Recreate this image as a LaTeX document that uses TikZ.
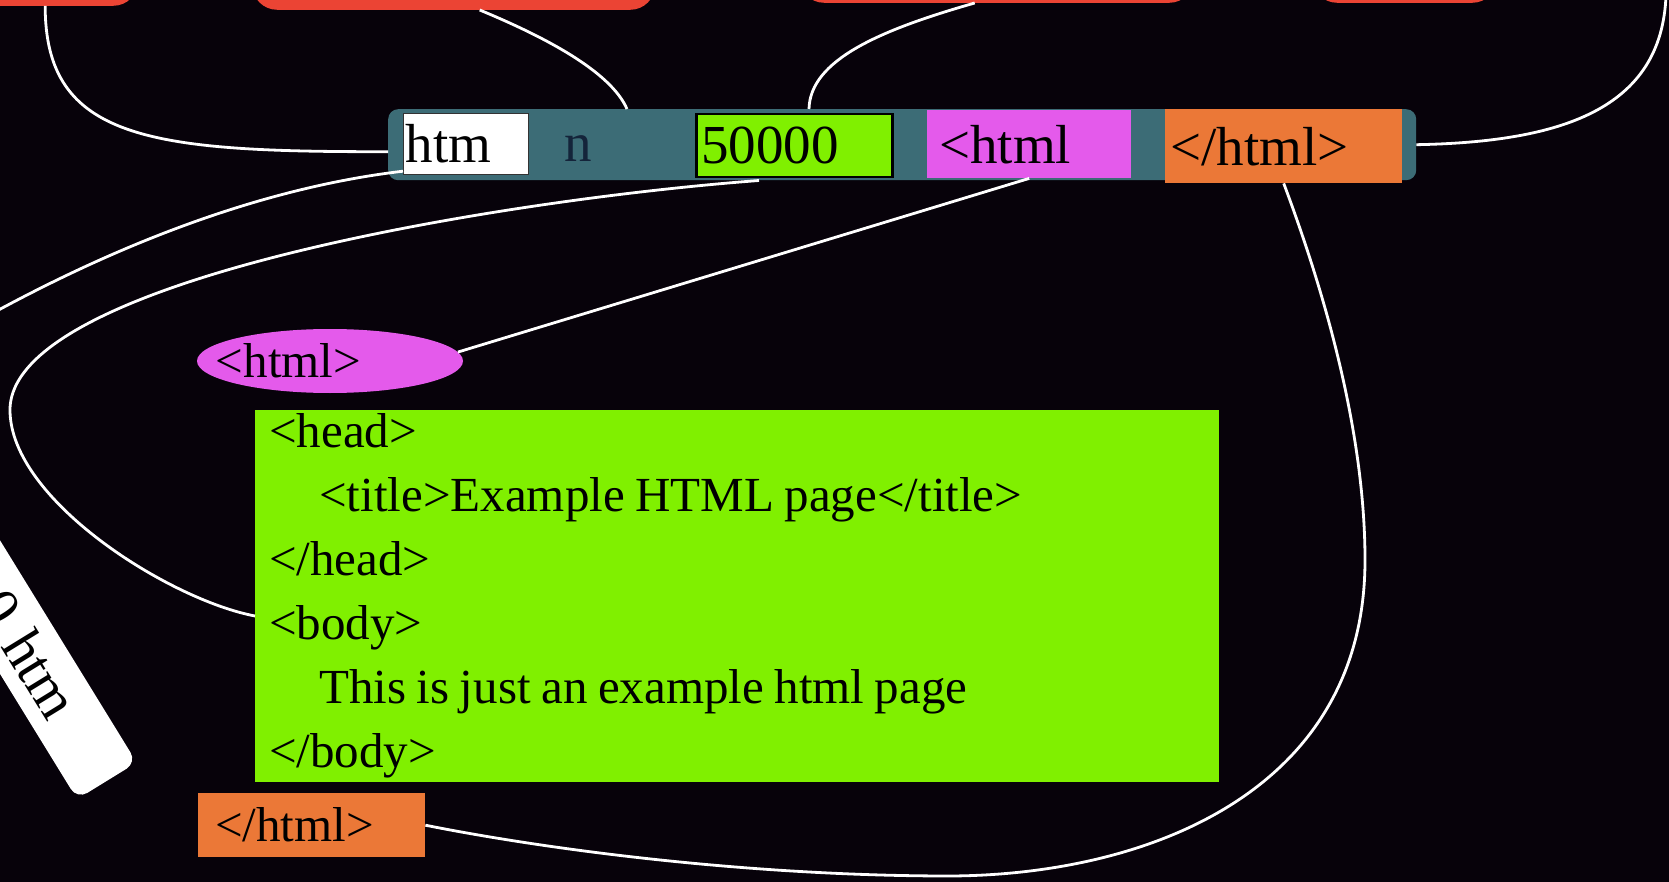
\documentclass[tikz,border=0pt]{standalone}
\usepackage{fontspec}
\setmainfont{Liberation Serif}
\usetikzlibrary{shapes.geometric,calc}
\definecolor{bgdark}{HTML}{07020A}
\definecolor{barteal}{HTML}{3C6C76}
\definecolor{tagred}{HTML}{EB4434}
\definecolor{taggreen}{HTML}{80F000}
\definecolor{tagmag}{HTML}{E45AEB}
\definecolor{tagorange}{HTML}{EB7837}
\definecolor{nblue}{HTML}{14243A}
\begin{document}
\begin{tikzpicture}[x=1pt,y=-1pt,
  conn/.style={draw=white, line width=2.8pt},
  cell/.style={rectangle, anchor=north west, inner ysep=0pt, align=left,
    font=\fontsize{55}{66}\selectfont, text=black},
  redbox/.style={fill=tagred, rounded corners=25pt, anchor=south west,
    inner sep=0pt, minimum height=90pt},
  ]
\path[use as bounding box, fill=bgdark] (0,0) rectangle (1669,882);
\clip (0,0) rectangle (1669,882);

% red shapes at the top (cut off)
\node[redbox, minimum width=188] (red1) at (-50,6) {};
\node[redbox, minimum width=403] (red2) at (252,10) {};
\node[redbox, minimum width=395] (red3) at (799,3) {};
\node[redbox, minimum width=185] (red4) at (1312,3) {};
\coordinate (r5) at (1666,-5);

% record bar
\node[fill=barteal, rounded corners=10pt, minimum width=1028, minimum height=71,
  inner sep=0pt, anchor=north west] (bar) at (388,109) {};
\node[cell, fill=white, draw=black!80, line width=1.2pt, text width=121,
  inner xsep=2pt, minimum height=61] (htm) at (403,113) {htm};
\node[font=\fontsize{55}{66}\selectfont, text=nblue, inner sep=0pt] (n) at (578,149) {n};
\node[cell, fill=taggreen, draw=black, line width=2.5pt, text width=186,
  inner xsep=5pt, minimum height=63] (grn) at (695,113) {50000};
\node[cell, fill=tagmag, text width=180, inner xsep=12pt, minimum height=68]
  (mag) at (927,110) {<html};
\node[cell, fill=tagorange, text width=227, inner xsep=5pt, minimum height=74]
  (or1) at (1165,109) {</html>};

% ellipse
\node[ellipse, fill=tagmag, minimum width=266, minimum height=64, inner sep=0pt,
  font=\fontsize{49}{60}\selectfont] (ell) at (330,361)
  {\makebox[0pt]{\hspace*{-83pt}\raisebox{-4pt}{<html>}}};

% big green text box
\node[fill=taggreen, anchor=north west, inner xsep=14pt, inner ysep=3.5pt,
  text width=936, minimum height=370, align=left,
  font=\fontsize{49}{64}\selectfont] (box) at (255,410)
  {\spaceskip=10.5pt\relax
   <head>\\
   \hspace*{50pt}<title>Example HTML page</title>\\
   </head>\\
   <body>\\
   \hspace*{50pt}This is just an example html page\\
   </body>};

% bottom orange
\node[cell, fill=tagorange, font=\fontsize{49}{60}\selectfont, inner xsep=17pt,
  text width=193, minimum height=64] (or2) at (198,793) {</html>};

% rotated white box
\node[rotate=-58.4, anchor=east, fill=white, rounded corners=12pt,
  minimum height=70, inner ysep=0pt, inner xsep=80pt, text width=300,
  align=right, font=\fontsize{58}{70}\selectfont] (rot) at (107,781) {0 htm};

% connectors
\draw[conn] ($(red1.south)+(1,0)$) .. controls (45,140) and (150,152) .. ($(bar.west)+(0,7)$);
\draw[conn] ($(red2.south)+(26,0)$) .. controls (540,35) and (610,70) .. ($(bar.north west)+(239,0)$);
\draw[conn] ($(red3.south)+(-22,0)$) .. controls (880,30) and (810,60) .. ($(bar.north west)+(421,0)$);
\draw[conn] (r5) .. controls (1662,110) and (1560,142) .. (bar.east);
\draw[conn] ($(htm.south west)+(0,-4)$) .. controls (260,188) and (80,250) .. (rot.west);
\draw[conn] ($(grn.south west)+(64,2)$) .. controls (500,200) and (10,280) .. (10,410)
  .. controls (10,500) and (170,600) .. ($(box.west)+(0,20)$);
\draw[conn] (mag.south) -- (ell.4);
\draw[conn] (or1.south) .. controls (1335,320) and (1365,450) .. (1365,560)
  .. controls (1365,790) and (1150,875) .. (950,876)
  .. controls (750,876) and (550,850) .. (or2.east);
\end{tikzpicture}
\end{document}
